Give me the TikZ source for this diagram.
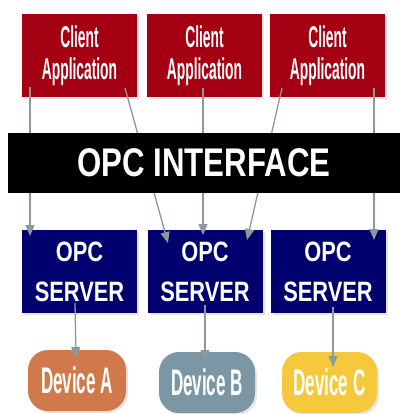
\documentclass[tikz,border=0pt]{standalone}
\usepackage{fontspec}
\usetikzlibrary{arrows.meta,shadows}
\newfontfamily\fclient[FakeStretch=0.46]{Liberation Sans}
\newfontfamily\fserver[FakeStretch=0.78]{Liberation Sans}
\newfontfamily\fdev[FakeStretch=0.46]{Liberation Sans}
\newfontfamily\fband[FakeStretch=0.78]{Liberation Sans}
\definecolor{cred}{HTML}{A50012}
\definecolor{cnavy}{HTML}{00006E}
\definecolor{cdevA}{HTML}{D07A4C}
\definecolor{cdevB}{HTML}{7B97A6}
\definecolor{cdevC}{HTML}{F6C93C}
\definecolor{carrow}{HTML}{8A9A9C}
\begin{document}
\begin{tikzpicture}[x=1pt,y=-1pt,
  shad/.style={drop shadow={opacity=0.2,shadow xshift=2pt,shadow yshift=-2pt}},
  client/.style={shad,fill=cred,minimum width=115pt,minimum height=83pt,inner sep=0pt,
    text=white,align=center,font=\fclient\bfseries\fontsize{30}{32}\selectfont},
  server/.style={shad,fill=cnavy,minimum width=115pt,minimum height=83pt,inner sep=0pt,
    text=white,align=center,font=\fserver\bfseries\fontsize{28}{40}\selectfont},
  device/.style={shad,rounded corners=20pt,minimum height=61pt,inner sep=0pt,
    text=white,font=\fdev\bfseries\fontsize{37}{40}\selectfont},
  band/.style={fill=black,minimum width=392pt,minimum height=60pt,inner sep=0pt,
    text=white,font=\fband\bfseries\fontsize{40}{44}\selectfont},
  conn/.style={draw=carrow,line width=1.3pt,-{Triangle[width=9pt,length=11pt]}}]
\fill[white] (0,0) rectangle (400,414);
\useasboundingbox (0,0) rectangle (400,414);
% client applications
\node[client] (c1) at (79.5,55.5) {Client\\Application};
\node[client] (c2) at (204.5,55.5) {Client\\Application};
\node[client] (c3) at (327.5,55.5) {Client\\Application};
% servers
\node[server] (s1) at (79.5,271.5) {OPC\\SERVER};
\node[server] (s2) at (205,271.5) {OPC\\SERVER};
\node[server] (s3) at (328,271.5) {OPC\\SERVER};
% devices
\node[device,fill=cdevA,minimum width=98pt] (dA) at (77,380.5) {Device A};
\node[device,fill=cdevB,minimum width=96pt] (dB) at (207,382.5) {Device B};
\node[device,fill=cdevC,minimum width=95pt] (dC) at (329.5,382.5) {Device C};
% connector end points
\coordinate (c1a) at (30,87);   \coordinate (s1a) at (30,236);
\coordinate (c1b) at (125,88);  \coordinate (s2a) at (168,243);
\coordinate (c2a) at (203,88);  \coordinate (s2b) at (203,235);
\coordinate (c2b) at (282,88);  \coordinate (s2c) at (247,240);
\coordinate (c3a) at (374,88);  \coordinate (s3a) at (374,240);
\coordinate (s1d) at (75,303);  \coordinate (dAt) at (76,358);
\coordinate (s2d) at (205,305); \coordinate (dBt) at (205,361);
\coordinate (s3d) at (333,307); \coordinate (dCt) at (333,367);
\draw[conn] (c1a) -- (s1a);
\draw[conn] (c1b) -- (s2a);
\draw[conn] (c2a) -- (s2b);
\draw[conn] (c2b) -- (s2c);
\draw[conn] (c3a) -- (s3a);
\draw[conn] (s1d) -- (dAt);
\draw[conn] (s2d) -- (dBt);
\draw[conn] (s3d) -- (dCt);
% interface band
\node[band] (iface) at (204,163) {OPC INTERFACE};
\end{tikzpicture}
\end{document}
